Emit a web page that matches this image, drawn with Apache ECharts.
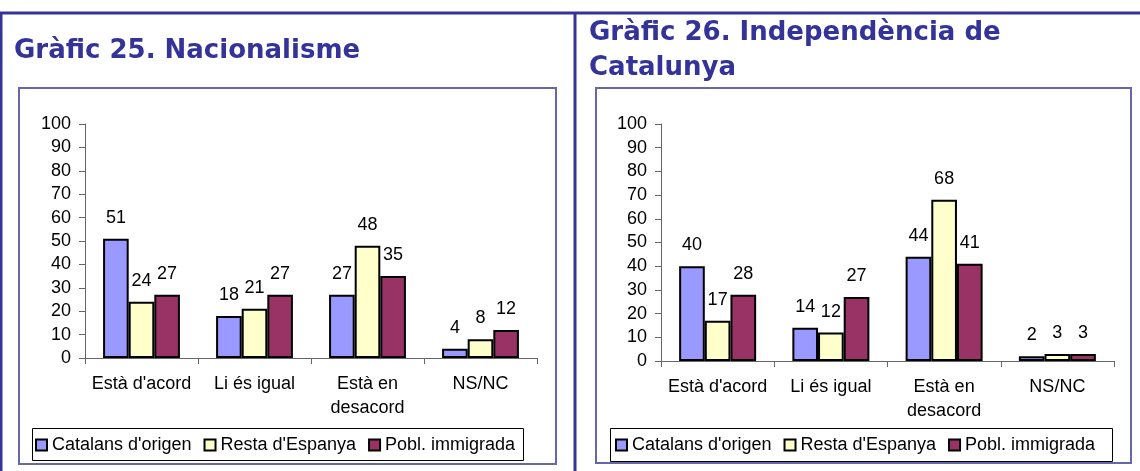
<!DOCTYPE html>
<html>
<head>
<meta charset="utf-8">
<script src="https://cdn.jsdelivr.net/npm/echarts@6/dist/echarts.min.js"></script>
<style>
html,body{margin:0;padding:0;background:#fff;}
#chart{width:1140px;height:471px;}
</style>
</head>
<body>
<div id="chart"></div>
<script>
const categories = ["Està d'acord", "Li és igual", "Està en\ndesacord", "NS/NC"];
const seriesNames = ["Catalans d'origen", "Resta d'Espanya", "Pobl. immigrada"];
const seriesColors = ["#9999FF", "#FFFFCC", "#993366"];
const title25 = "Gràfic 25. Nacionalisme";
const title26 = "Gràfic 26. Independència de\nCatalunya";
// Gràfic 25. Nacionalisme
const nac_catalans = [51, 18, 27, 4];
const nac_restaEspanya = [24, 21, 48, 8];
const nac_immigrada = [27, 27, 35, 12];
// Gràfic 26. Independència de Catalunya
const ind_catalans = [40, 14, 44, 2];
const ind_restaEspanya = [17, 12, 68, 3];
const ind_immigrada = [28, 27, 41, 3];
const yMin = 0, yMax = 100, yInterval = 10;

const FONT = "'Liberation Sans', Arial, sans-serif";
const chart = echarts.init(document.getElementById('chart'));

function xAx(gi) {
  return {
    type: 'category', gridIndex: gi, data: categories,
    axisLine: {lineStyle: {color: '#666', width: 1}},
    axisTick: {show: true, length: 6, interval: 0, lineStyle: {color: '#666'}},
    axisLabel: {fontFamily: FONT, fontSize: 18, color: '#000', margin: 14, lineHeight: 24, interval: 0}
  };
}
function yAx(gi) {
  return {
    type: 'value', gridIndex: gi, min: yMin, max: yMax, interval: yInterval,
    axisLine: {show: true, lineStyle: {color: '#666', width: 1}},
    axisTick: {show: true, length: 6, lineStyle: {color: '#666'}},
    splitLine: {show: false},
    axisLabel: {fontFamily: FONT, fontSize: 18, color: '#000', margin: 14}
  };
}
function bar(name, data, gi, color) {
  return {
    type: 'bar', name: name, data: data, xAxisIndex: gi, yAxisIndex: gi,
    barGap: '0%', barCategoryGap: '32%',
    itemStyle: {color: color, borderColor: '#000', borderWidth: 2},
    label: {show: true, position: 'top', distance: 12, fontFamily: FONT, fontSize: 18, color: '#000'},
    emphasis: {disabled: true}, animation: false
  };
}
function legend(left) {
  return {
    left: left, top: 436, padding: 0, itemGap: 12, itemWidth: 11, itemHeight: 11,
    icon: 'rect', data: seriesNames,
    itemStyle: {borderColor: '#000', borderWidth: 2},
    textStyle: {fontFamily: FONT, fontSize: 18, color: '#000', padding: [0, 0, 0, 0]},
    selectedMode: false
  };
}

const option = {
  animation: false,
  backgroundColor: '#fff',
  title: [
    {text: title25, left: 9, top: 30, textStyle: {fontFamily: "'DejaVu Sans'", fontWeight: 'bold', fontSize: 26, color: '#333399', lineHeight: 32}},
    {text: title26, left: 584, top: 11, textStyle: {fontFamily: "'DejaVu Sans'", fontWeight: 'bold', fontSize: 26, color: '#333399', lineHeight: 35}}
  ],
  grid: [
    {left: 85, top: 124, width: 452, height: 234},
    {left: 661, top: 124, width: 453, height: 237}
  ],
  xAxis: [xAx(0), xAx(1)],
  yAxis: [yAx(0), yAx(1)],
  legend: [legend(35), legend(615)],
  series: [
    bar(seriesNames[0], nac_catalans, 0, seriesColors[0]),
    bar(seriesNames[1], nac_restaEspanya, 0, seriesColors[1]),
    bar(seriesNames[2], nac_immigrada, 0, seriesColors[2]),
    bar(seriesNames[0], ind_catalans, 1, seriesColors[0]),
    bar(seriesNames[1], ind_restaEspanya, 1, seriesColors[1]),
    bar(seriesNames[2], ind_immigrada, 1, seriesColors[2])
  ],
  graphic: [
    {type: 'line', shape: {x1: 0, y1: 13, x2: 1140, y2: 13}, style: {stroke: '#333399', lineWidth: 3}, silent: true},
    {type: 'line', shape: {x1: 1, y1: 13, x2: 1, y2: 471}, style: {stroke: '#333399', lineWidth: 3}, silent: true},
    {type: 'line', shape: {x1: 575, y1: 13, x2: 575, y2: 471}, style: {stroke: '#333399', lineWidth: 3}, silent: true},
    {type: 'rect', shape: {x: 19, y: 88, width: 537, height: 376}, style: {fill: 'none', stroke: '#6666AA', lineWidth: 2}, silent: true},
    {type: 'rect', shape: {x: 596, y: 88, width: 535, height: 375}, style: {fill: 'none', stroke: '#6666AA', lineWidth: 2}, silent: true},
    {type: 'rect', shape: {x: 32.5, y: 428.5, width: 491, height: 32}, style: {fill: 'none', stroke: '#000', lineWidth: 1}, silent: true},
    {type: 'rect', shape: {x: 610.5, y: 428.5, width: 502, height: 33}, style: {fill: 'none', stroke: '#000', lineWidth: 1}, silent: true}
  ]
};
chart.setOption(option);
</script>
</body>
</html>
